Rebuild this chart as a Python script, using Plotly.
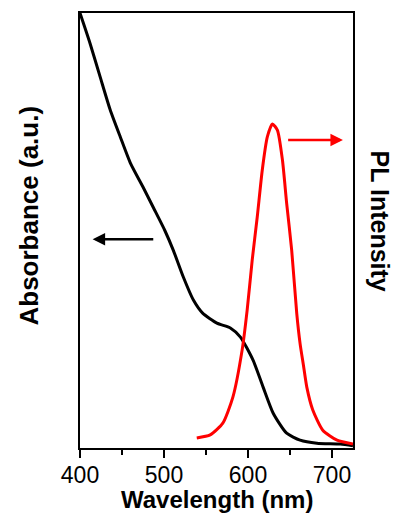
import plotly.graph_objects as go

# Absorbance spectrum (arbitrary units, normalised)
abs_wl = [400, 412, 424, 436, 448, 460, 475, 487, 501, 511, 523, 535, 546, 563,
          579, 591, 606, 618, 630, 646, 662, 682, 710, 725]
abs_val = [1.0, 0.93, 0.853, 0.777, 0.715, 0.655, 0.60, 0.554, 0.50, 0.455, 0.393,
           0.34, 0.31, 0.287, 0.276, 0.255, 0.202, 0.14, 0.08, 0.034, 0.018, 0.011,
           0.009, 0.005]

# PL spectrum (arbitrary units)
pl_wl = [539, 555, 570, 582, 593, 599, 605, 611, 617, 623, 629, 635, 641, 646,
         652, 658, 662, 666, 670, 677, 689, 706, 725]
pl_val = [0.023, 0.030, 0.057, 0.117, 0.225, 0.317, 0.432, 0.531, 0.639, 0.715,
          0.745, 0.731, 0.662, 0.563, 0.455, 0.31, 0.24, 0.19, 0.140, 0.088,
          0.041, 0.018, 0.009]

x_ticks = [400, 500, 600, 700]

FONT = "Liberation Sans, Arial, sans-serif"

fig = go.Figure()
fig.add_trace(go.Scatter(x=abs_wl, y=abs_val, mode="lines",
                         line=dict(color="black", width=3, shape="spline", smoothing=0.6),
                         name="Absorbance", yaxis="y"))
fig.add_trace(go.Scatter(x=pl_wl, y=pl_val, mode="lines",
                         line=dict(color="#ff0000", width=3, shape="spline", smoothing=0.6),
                         name="PL", yaxis="y2"))

fig.update_layout(
    width=394, height=514,
    margin=dict(l=80, r=41, t=13, b=66),
    paper_bgcolor="white", plot_bgcolor="white",
    showlegend=False,
    font=dict(family=FONT, color="black"),
    xaxis=dict(range=[400, 725], tickvals=x_ticks, ticktext=[str(v) for v in x_ticks],
               ticks="outside", ticklen=8, tickwidth=1.5, tickcolor="black",
               minor=dict(dtick=50, tick0=400, ticks="outside", ticklen=5,
                          tickwidth=1.5, tickcolor="black"),
               showline=True, linecolor="black", linewidth=1.5, mirror=True,
               showgrid=False, zeroline=False, ticklabelstandoff=-2,
               tickfont=dict(size=23, family=FONT, color="black")),
    yaxis=dict(range=[0, 1], showticklabels=False, ticks="", showgrid=False,
               zeroline=False, showline=True, linecolor="black", linewidth=1.5,
               mirror=True),
    yaxis2=dict(range=[0, 1], overlaying="y", side="right", showticklabels=False,
                ticks="", showgrid=False, zeroline=False, showline=False),
)

annotations = [
    dict(text="<b>Wavelength (nm)</b>", xref="paper", yref="paper", x=0.5, y=0.0,
         yshift=-36, xanchor="center", yanchor="top", showarrow=False,
         font=dict(size=24, family=FONT, color="black")),
    dict(text="<b>Absorbance (a.u.)</b>", xref="paper", yref="paper", x=0, y=0.5,
         xshift=-52, yshift=15, xanchor="center", yanchor="middle", textangle=-90,
         showarrow=False, font=dict(size=26, family=FONT, color="black")),
    dict(text="<b>PL Intensity</b>", xref="paper", yref="paper", x=1, y=0.5,
         xshift=27, yshift=10, xanchor="center", yanchor="middle", textangle=90,
         showarrow=False, font=dict(size=25, family=FONT, color="black")),
    # arrows
    dict(x=415, y=0.48, ax=489, ay=0.48, xref="x", yref="y", axref="x", ayref="y",
         text="", showarrow=True, arrowhead=2, arrowsize=1, arrowwidth=2.5,
         arrowcolor="black"),
    dict(x=713, y=0.708, ax=646, ay=0.708, xref="x", yref="y", axref="x", ayref="y",
         text="", showarrow=True, arrowhead=2, arrowsize=1, arrowwidth=2.5,
         arrowcolor="#ff0000"),
]
fig.update_layout(annotations=annotations)

fig.write_html("out.html")
